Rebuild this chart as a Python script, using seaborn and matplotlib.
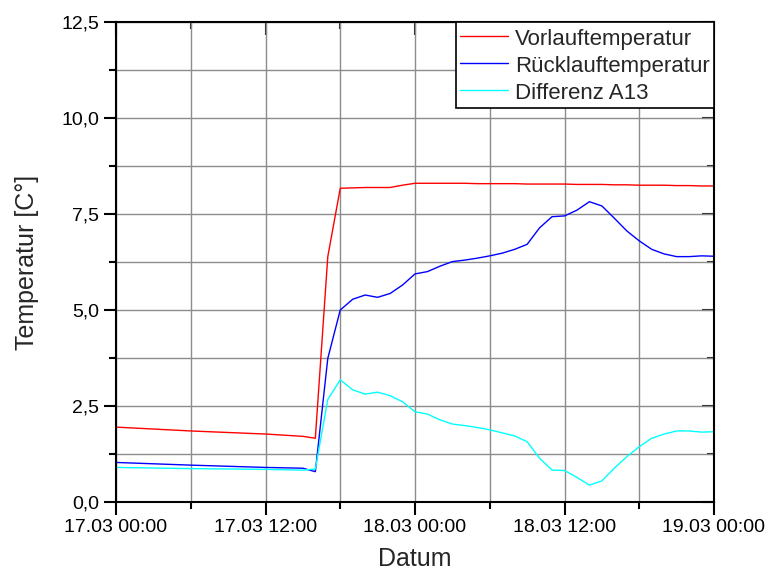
import numpy as np
import pandas as pd
import matplotlib
matplotlib.use("Agg")
import matplotlib.pyplot as plt
import matplotlib.dates as mdates
from matplotlib.ticker import MultipleLocator, FuncFormatter
import seaborn as sns

# Measurement hours after 17.03 00:00
hours = [0, 6, 12, 15, 16, 17, 18, 19, 20, 21, 22, 23, 24, 25, 26, 27, 28, 29, 30,
         31, 32, 33, 34, 35, 36, 37, 38, 39, 40, 41, 42, 43, 44, 45, 46, 47, 48]

vorlauf = [1.95, 1.85, 1.77, 1.71, 1.66, 6.39, 8.17, 8.18, 8.19, 8.19, 8.19, 8.25, 8.30,
           8.30, 8.30, 8.30, 8.30, 8.29, 8.29, 8.29, 8.29, 8.28, 8.28, 8.28, 8.28, 8.27,
           8.27, 8.27, 8.26, 8.26, 8.25, 8.25, 8.25, 8.24, 8.24, 8.23, 8.23]

ruecklauf = [1.03, 0.96, 0.90, 0.88, 0.79, 3.74, 5.00, 5.28, 5.39, 5.33, 5.43, 5.65, 5.94,
             6.00, 6.14, 6.26, 6.30, 6.35, 6.41, 6.48, 6.58, 6.71, 7.14, 7.43, 7.45, 7.60,
             7.82, 7.71, 7.39, 7.06, 6.80, 6.58, 6.46, 6.39, 6.39, 6.41, 6.40]

differenz = [0.90, 0.87, 0.85, 0.83, 0.86, 2.67, 3.18, 2.92, 2.81, 2.86, 2.77, 2.61, 2.35,
             2.29, 2.14, 2.03, 1.99, 1.94, 1.88, 1.80, 1.72, 1.57, 1.14, 0.83, 0.82, 0.64,
             0.44, 0.55, 0.88, 1.18, 1.44, 1.66, 1.77, 1.85, 1.85, 1.82, 1.83]

series_names = ["Vorlauftemperatur", "Rücklauftemperatur", "Differenz A13"]
series_colors = ["#ff0000", "#0000ff", "#00ffff"]

start = pd.Timestamp("2015-03-17 00:00")
times = start + pd.to_timedelta(hours, unit="h")

frames = []
for name, vals in zip(series_names, [vorlauf, ruecklauf, differenz]):
    frames.append(pd.DataFrame({"Datum": times, "Temperatur": vals, "Serie": name}))
df = pd.concat(frames, ignore_index=True)

sns.set_style("white")
plt.rcParams["font.family"] = ["Liberation Sans", "DejaVu Sans"]

fig = plt.figure(figsize=(7.71, 5.73), dpi=100)
ax = fig.add_axes([116 / 771, 71 / 573, 598 / 771, 480 / 573])

sns.lineplot(data=df, x="Datum", y="Temperatur", hue="Serie", hue_order=series_names,
             palette=series_colors, linewidth=1.0, ax=ax, legend=True)

x0 = mdates.date2num(start)
x1 = mdates.date2num(start + pd.Timedelta(hours=48))
ax.set_xlim(x0, x1)
ax.set_ylim(0, 12.5)

ax.xaxis.set_major_locator(MultipleLocator(0.5))
ax.xaxis.set_minor_locator(MultipleLocator(0.25))
ax.xaxis.set_major_formatter(mdates.DateFormatter("%d.%m %H:%M"))
ax.yaxis.set_major_locator(MultipleLocator(2.5))
ax.yaxis.set_minor_locator(MultipleLocator(1.25))
ax.yaxis.set_major_formatter(FuncFormatter(lambda v, p: f"{v:.1f}".replace(".", ",")))

ax.grid(True, which="both", color="#8c8c8c", linewidth=1.0)
ax.set_axisbelow(True)

for sp in ax.spines.values():
    sp.set_color("black")
    sp.set_linewidth(1.5)

ax.tick_params(axis="both", which="major", direction="out", length=9, width=1.5,
               labelsize=14, colors="black", pad=3)
ax.tick_params(axis="both", which="minor", direction="out", length=5, width=1.5,
               colors="black")

ax.set_xlabel("Datum", fontsize=18, labelpad=8)
ax.set_ylabel("Temperatur [C°]", fontsize=18, labelpad=16)

# Inward ticks on the top and right edges
axt = ax.twiny()
axt.set_xlim(x0, x1)
axt.xaxis.set_major_locator(MultipleLocator(0.5))
axt.xaxis.set_minor_locator(MultipleLocator(0.25))
axt.tick_params(axis="x", which="major", direction="in", length=9, width=1.5,
                labeltop=False, top=True)
axt.tick_params(axis="x", which="minor", direction="in", length=5, width=1.5, top=True)
axr = ax.twinx()
axr.set_ylim(0, 12.5)
axr.yaxis.set_major_locator(MultipleLocator(2.5))
axr.yaxis.set_minor_locator(MultipleLocator(1.25))
axr.tick_params(axis="y", which="major", direction="in", length=9, width=1.5,
                labelright=False, right=True)
axr.tick_params(axis="y", which="minor", direction="in", length=5, width=1.5, right=True)
for a in (axt, axr):
    a.grid(False)
    for sp in a.spines.values():
        sp.set_visible(False)
    a.patch.set_visible(False)
    a.set_zorder(ax.get_zorder() - 1)
ax.patch.set_visible(False)
ax.set_zorder(2)

handles, labels = ax.get_legend_handles_labels()
leg = ax.legend(handles, labels, loc="upper right", bbox_to_anchor=(1.0, 1.0),
                borderaxespad=0, fontsize=16, frameon=True, fancybox=False,
                handlelength=2.15, handleheight=1.1, handletextpad=0.3,
                borderpad=0.2, labelspacing=0.17, framealpha=1)
leg.get_frame().set_edgecolor("black")
leg.get_frame().set_linewidth(1.2)

fig.savefig("out.png", dpi=100, facecolor="white")
